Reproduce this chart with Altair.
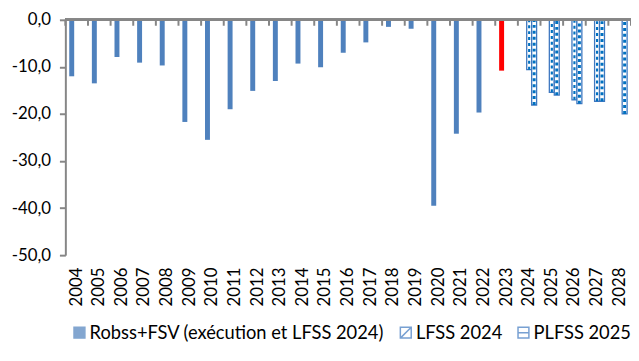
import altair as alt
import pandas as pd

# ---- data ----
annees = [str(a) for a in range(2004, 2029)]
series = ["Robss+FSV (exécution et LFSS 2024)", "LFSS 2024", "PLFSS 2025"]

annees_robss = annees[:20]  # 2004-2023
robss = [-12.0, -13.5, -7.9, -9.1, -9.7, -21.7, -25.5, -19.0, -15.1, -13.0,
         -9.3, -10.1, -7.0, -4.8, -1.5, -1.9, -39.5, -24.2, -19.7, -10.8]

annees_lfss = ["2024", "2025", "2026", "2027"]
lfss2024 = [-10.6, -15.4, -17.0, -17.3]

annees_plfss = ["2024", "2025", "2026", "2027", "2028"]
plfss2025 = [-18.1, -16.0, -17.8, -17.3, -20.0]

annee_surlignee = "2023"
y_ticks = [-50, -40, -30, -20, -10, 0]

# ---- build table ----
rows = []
for a, v in zip(annees_robss, robss):
    rows.append({"annee": a, "serie": series[0], "valeur": v})
for a, v in zip(annees_lfss, lfss2024):
    rows.append({"annee": a, "serie": series[1], "valeur": v})
for a, v in zip(annees_plfss, plfss2025):
    rows.append({"annee": a, "serie": series[2], "valeur": v})
df = pd.DataFrame(rows)
df_annees = pd.DataFrame({"annee": annees})

BLUE = "#4f81bd"
RED = "#ff0000"
OUTLINE = "#3f78c0"
HATCH = "#0070c0"
GREY = "#868686"
FONT = "Lato"

x_scale = alt.Scale(domain=annees, paddingInner=0, paddingOuter=0)
off = alt.XOffset("serie:N", scale=alt.Scale(domain=series, paddingInner=0, paddingOuter=0.785))
y_scale = alt.Scale(domain=[-50, 0], nice=False, zero=True)
fill_scale = alt.Scale(domain=series, range=[BLUE, "white", "white"])
stroke_scale = alt.Scale(domain=series, range=[BLUE, OUTLINE, OUTLINE])
shape_scale = alt.Scale(domain=series, range=[
    "M-1,-1H1V1H-1Z",
    "M-1,-1H1V1H-1Z M-1,1L1,-1",
    "M-1,-1H1V1H-1Z M-1,0H1",
])

x_axis = alt.Axis(orient="bottom", labelAngle=-90, domain=False, ticks=False,
                  tickSize=0, labelPadding=12, labelFontSize=17,
                  labelColor="black", labelFont=FONT, title=None)
y_axis = alt.Axis(values=y_ticks, grid=False, domainColor=GREY, domainWidth=2,
                  tickColor=GREY, tickWidth=2, tickSize=6, labelPadding=9,
                  labelFontSize=17, labelColor="black", labelFont=FONT, title=None,
                  labelExpr="(datum.value < 0 ? '-' : '') + replace(format(abs(datum.value), '.1f'), '.', ',')")

X = alt.X("annee:O", scale=x_scale, axis=x_axis, title=None)
Y = alt.Y("valeur:Q", scale=y_scale, axis=y_axis, title=None)
Y0 = alt.YDatum(0, scale=y_scale, axis=y_axis, title=None)
leg = alt.Legend(title=None)

base = alt.Chart(df)

# solid series (with the highlighted year)
solid = base.transform_filter(alt.datum.serie == series[0]).mark_bar().encode(
    x=X, xOffset=off, y=Y,
    fill=alt.condition(f"datum.annee == '{annee_surlignee}'", alt.value(RED),
                       alt.Fill("serie:N", scale=fill_scale, legend=leg)),
)

# hatched series: white bars with an outline
hatched = base.transform_filter(alt.datum.serie != series[0]).mark_bar(strokeWidth=1.3).encode(
    x=X, xOffset=off, y=Y,
    fill=alt.Fill("serie:N", scale=fill_scale, legend=leg),
    stroke=alt.Stroke("serie:N", scale=stroke_scale, legend=leg),
)

# hatch marks drawn inside the bars
hatch_diag = base.transform_filter(alt.datum.serie == series[1]).mark_rule(
    strokeDash=[3, 3], strokeWidth=2.2, color=HATCH).encode(
    x=X, xOffset=off, y=Y, y2=alt.datum(0),
)
hatch_horiz = base.transform_filter(alt.datum.serie == series[2]).mark_rule(
    strokeDash=[3, 3], strokeWidth=3, color=HATCH).encode(
    x=X, xOffset=off, y=Y, y2=alt.datum(0),
)

# invisible points only carrying the legend symbols
legend_pts = base.mark_point(size=0, filled=True).encode(
    x=X, xOffset=off, y=Y,
    shape=alt.Shape("serie:N", scale=shape_scale, legend=leg),
    fill=alt.Fill("serie:N", scale=fill_scale, legend=leg),
    stroke=alt.Stroke("serie:N", scale=stroke_scale, legend=leg),
)

# horizontal axis line at zero
zero = alt.Chart(df_annees).mark_rule(color=GREY, strokeWidth=2).encode(y=Y0)

# category boundary ticks hanging below the zero line
cat_ticks = alt.Chart(df_annees).mark_rule(color=GREY, strokeWidth=2, y2Offset=6).encode(
    x=alt.X("annee:O", scale=x_scale, axis=x_axis, title=None, bandPosition=0),
    y=Y0, y2=alt.datum(0),
)
cat_tick_end = alt.Chart(df_annees).transform_filter(
    alt.datum.annee == annees[-1]).mark_rule(color=GREY, strokeWidth=2, y2Offset=6).encode(
    x=alt.X("annee:O", scale=x_scale, axis=x_axis, title=None, bandPosition=1),
    y=Y0, y2=alt.datum(0),
)

chart = alt.layer(solid, hatched, hatch_diag, hatch_horiz, legend_pts, zero,
                  cat_ticks, cat_tick_end).properties(
    width=572, height=238,
    padding={"left": 58, "top": 10, "right": 0, "bottom": 97},
    autosize="none",
).configure_view(stroke=None).configure_legend(
    orient="none", legendX=5, legendY=307, direction="horizontal",
    labelFont=FONT, labelFontSize=18.5, labelColor="black", labelOffset=1,
    symbolSize=121, symbolStrokeWidth=1.5, columnPadding=12, labelLimit=400,
)

chart.save("out.html", embed_options={"renderer": "svg", "actions": False})
